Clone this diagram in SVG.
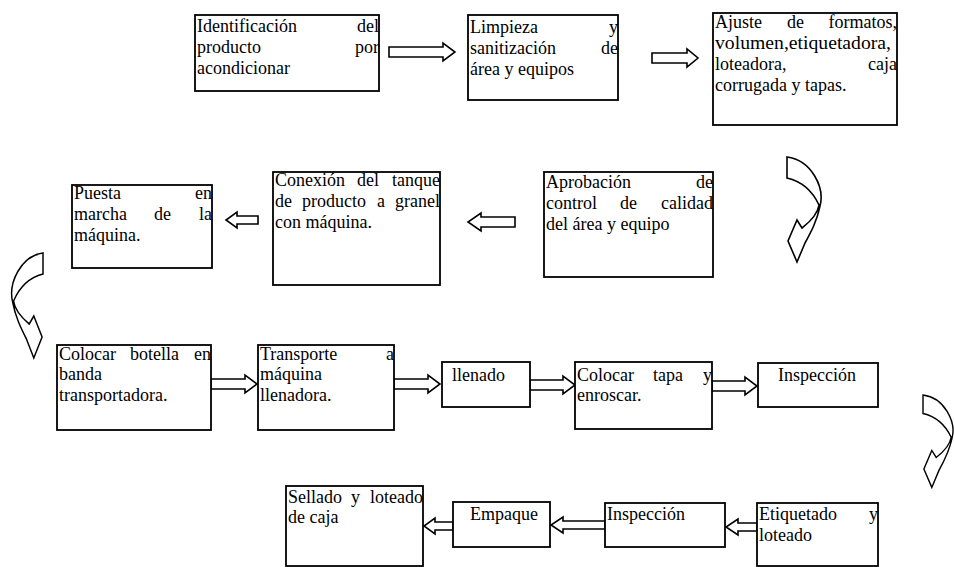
<svg xmlns="http://www.w3.org/2000/svg" xmlns:xlink="http://www.w3.org/1999/xlink" width="954" height="567" viewBox="0 0 954 567">
<style>
.box{fill:#fff;stroke:#000;stroke-width:1.8}
.t{font-family:"Liberation Serif",Tinos,"Times New Roman","DejaVu Serif",serif;font-size:18px;fill:#000}
.e{text-anchor:end}
.arr{fill:#fff;stroke:#000;stroke-width:1.6;stroke-linejoin:miter}
</style>
<defs>
<path id="curve" d="M0,0 C24,3 38,30 33,49 C30,64 24,75 18,86 L10,105 L1,84 L10,63 L15,71 C24,64 31,55 32,48 C25,33 13,24 0,21 Z"/>
</defs>
<rect width="954" height="567" fill="#fff"/>
<g id="connectors">
<polygon class="arr" points="389,47 443,47 443,43 455,52 443,61 443,57 389,57"/>
<polygon class="arr" points="652,53 687,53 687,49 698,58 687,67 687,63 652,63"/>
<use xlink:href="#curve" href="#curve" class="arr" transform="translate(787,157)"/>
<polygon class="arr" points="515,217 481,217 481,213 468,222 481,231 481,227 515,227"/>
<polygon class="arr" points="258,216 237,216 237,212 226,220 237,228 237,224 258,224"/>
<use xlink:href="#curve" href="#curve" class="arr" transform="translate(43,253) scale(-0.92,1)"/>
<polygon class="arr" points="211,379 245,379 245,375 257,384 245,393 245,389 211,389"/>
<polygon class="arr" points="394,379 428,379 428,375 440,384 428,393 428,389 394,389"/>
<polygon class="arr" points="530,380 563,380 563,376 575,385 563,394 563,390 530,390"/>
<polygon class="arr" points="712,381 745,381 745,377 757,386 745,395 745,391 712,391"/>
<use xlink:href="#curve" href="#curve" class="arr" transform="translate(923,395) scale(0.88)"/>
<polygon class="arr" points="757,523 738,523 738,519 726,527 738,535 738,531 757,531"/>
<polygon class="arr" points="605,521 563,521 563,517 551,525 563,533 563,529 605,529"/>
<polygon class="arr" points="453,522 435,522 435,518 424,526 435,534 435,530 453,530"/>
</g>
<g id="n1">
<rect class="box" x="195" y="15" width="184" height="76"/>
<text class="t" x="197" y="32">Identificación</text><text class="t e" x="379" y="32">del</text>
<text class="t" x="197" y="53">producto</text><text class="t e" x="379" y="53">por</text>
<text class="t" x="197" y="74">acondicionar</text>
</g>
<g id="n2">
<rect class="box" x="468" y="15" width="150" height="85"/>
<text class="t" x="470" y="33">Limpieza</text><text class="t e" x="618" y="33">y</text>
<text class="t" x="470" y="54">sanitización</text><text class="t e" x="618" y="54">de</text>
<text class="t" x="470" y="75">área y equipos</text>
</g>
<g id="n3">
<rect class="box" x="713" y="13" width="184" height="112"/>
<text class="t" x="715" y="28">Ajuste</text><text class="t" x="787" y="28">de</text><text class="t e" x="897" y="28">formatos,</text>
<text class="t" x="715" y="49" textLength="176" lengthAdjust="spacingAndGlyphs">volumen,etiquetadora,</text>
<text class="t" x="715" y="70">loteadora,</text><text class="t e" x="897" y="70">caja</text>
<text class="t" x="715" y="91">corrugada y tapas.</text>
</g>
<g id="n4">
<rect class="box" x="544" y="172" width="169" height="105"/>
<text class="t" x="546" y="188">Aprobación</text><text class="t e" x="713" y="188">de</text>
<text class="t" x="546" y="209">control</text><text class="t" x="620" y="209">de</text><text class="t e" x="713" y="209">calidad</text>
<text class="t" x="546" y="230">del área y equipo</text>
</g>
<g id="n5">
<rect class="box" x="273" y="172" width="167" height="113"/>
<text class="t" x="275" y="186">Conexión</text><text class="t" x="357" y="186">del</text><text class="t e" x="440" y="186">tanque</text>
<text class="t" x="275" y="207">de</text><text class="t" x="302" y="207">producto</text><text class="t" x="377" y="207">a</text><text class="t e" x="440" y="207">granel</text>
<text class="t" x="275" y="228">con máquina.</text>
</g>
<g id="n6">
<rect class="box" x="72" y="185" width="140" height="83"/>
<text class="t" x="74" y="199">Puesta</text><text class="t e" x="212" y="199">en</text>
<text class="t" x="74" y="220">marcha</text><text class="t" x="154" y="220">de</text><text class="t e" x="212" y="220">la</text>
<text class="t" x="74" y="241">máquina.</text>
</g>
<g id="n7">
<rect class="box" x="57" y="345" width="154" height="85"/>
<text class="t" x="59" y="360">Colocar</text><text class="t" x="130" y="360">botella</text><text class="t e" x="211" y="360">en</text>
<text class="t" x="59" y="380">banda</text>
<text class="t" x="59" y="401">transportadora.</text>
</g>
<g id="n8">
<rect class="box" x="258" y="345" width="136" height="85"/>
<text class="t" x="260" y="360">Transporte</text><text class="t e" x="394" y="360">a</text>
<text class="t" x="260" y="380">máquina</text>
<text class="t" x="260" y="401">llenadora.</text>
</g>
<g id="n9">
<rect class="box" x="442" y="362" width="88" height="45"/>
<text class="t" x="452" y="381">llenado</text>
</g>
<g id="n10">
<rect class="box" x="575" y="362" width="137" height="67"/>
<text class="t" x="577" y="381">Colocar</text><text class="t" x="653" y="381">tapa</text><text class="t e" x="712" y="381">y</text>
<text class="t" x="577" y="401">enroscar.</text>
</g>
<g id="n11">
<rect class="box" x="758" y="363" width="120" height="44"/>
<text class="t" x="778" y="381">Inspección</text>
</g>
<g id="n12">
<rect class="box" x="757" y="503" width="121" height="63"/>
<text class="t" x="759" y="520">Etiquetado</text><text class="t e" x="878" y="520">y</text>
<text class="t" x="759" y="541">loteado</text>
</g>
<g id="n13">
<rect class="box" x="605" y="503" width="120" height="44"/>
<text class="t" x="607" y="520">Inspección</text>
</g>
<g id="n14">
<rect class="box" x="453" y="502" width="97" height="45"/>
<text class="t" x="470" y="520">Empaque</text>
</g>
<g id="n15">
<rect class="box" x="286" y="486" width="137" height="80"/>
<text class="t" x="288" y="503">Sellado</text><text class="t" x="351" y="503">y</text><text class="t e" x="423" y="503">loteado</text>
<text class="t" x="288" y="523">de caja</text>
</g>
</svg>
